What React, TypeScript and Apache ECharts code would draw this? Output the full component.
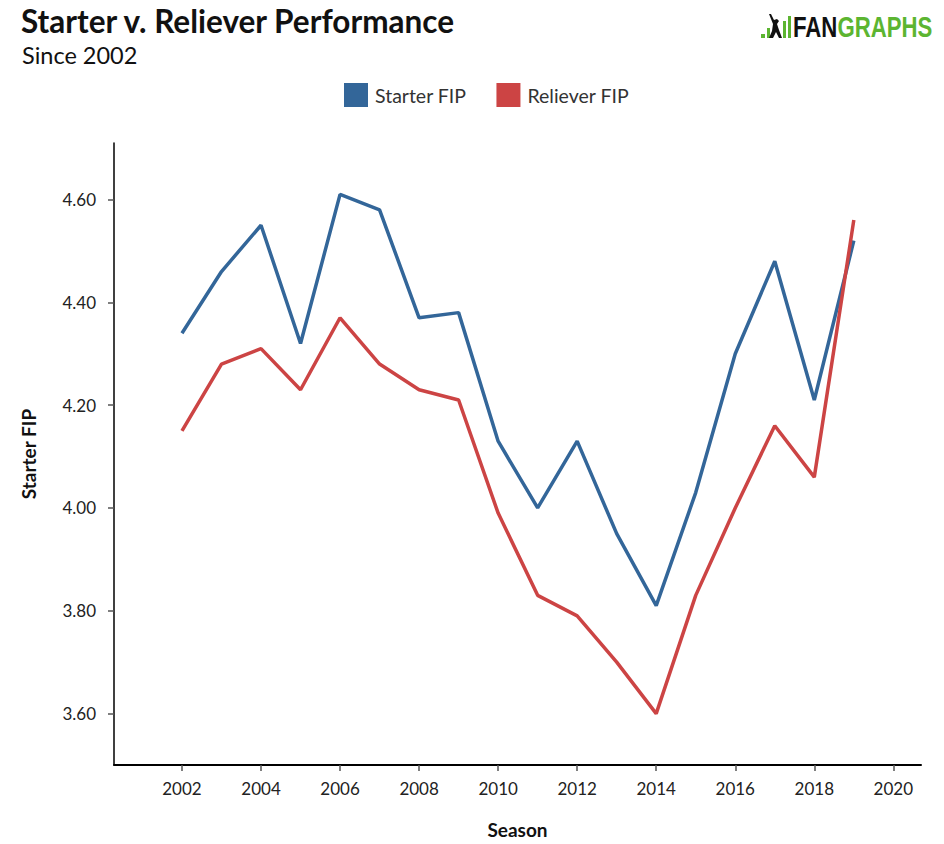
import React, { useEffect, useRef } from "react";
import * as echarts from "echarts";

const seasons = [2002, 2003, 2004, 2005, 2006, 2007, 2008, 2009, 2010, 2011, 2012, 2013, 2014, 2015, 2016, 2017, 2018, 2019];
const starterFIP = [4.34, 4.46, 4.55, 4.32, 4.61, 4.58, 4.37, 4.38, 4.13, 4.0, 4.13, 3.95, 3.81, 4.03, 4.3, 4.48, 4.21, 4.52];
const relieverFIP = [4.15, 4.28, 4.31, 4.23, 4.37, 4.28, 4.23, 4.21, 3.99, 3.83, 3.79, 3.7, 3.6, 3.83, 4.0, 4.16, 4.06, 4.56];
const xTicks = [2002, 2004, 2006, 2008, 2010, 2012, 2014, 2016, 2018, 2020];
const yTicks = [3.6, 3.8, 4.0, 4.2, 4.4, 4.6];

const FONT = "Lato, 'Noto Sans', sans-serif";
const BLUE = "#336699";
const RED = "#cc4444";
const GREEN = "#5cb531";

export default function App() {
  const ref = useRef<HTMLDivElement>(null);
  useEffect(() => {
    if (!ref.current) return;
    const chart = echarts.init(ref.current, null, { renderer: "svg" });
    chart.setOption({
      animation: false,
      backgroundColor: "#ffffff",
      textStyle: { fontFamily: FONT },
      grid: { left: 114, right: 23, top: 143, bottom: 77, containLabel: false },
      legend: {
        left: 339,
        top: 78,
        itemWidth: 24,
        itemHeight: 24,
        itemGap: 30,
        icon: "rect",
        textStyle: { fontSize: 19.5, color: "#333", fontFamily: FONT, padding: [0, 0, 0, 2] },
        data: ["Starter FIP", "Reliever FIP"],
      },
      xAxis: {
        type: "value",
        min: 2000.28,
        max: 2020.7,
        name: "Season",
        nameLocation: "middle",
        nameGap: 55,
        nameTextStyle: { fontSize: 19, fontWeight: "bold", color: "#111", fontFamily: FONT },
        axisLine: { show: true, lineStyle: { color: "#000", width: 2 } },
        axisTick: { show: true, length: 6, customValues: xTicks, lineStyle: { color: "#555", width: 1.5 } },
        axisLabel: { customValues: xTicks, fontSize: 17, color: "#222", margin: 15, fontFamily: FONT, formatter: (v: number) => String(v) },
        splitLine: { show: false },
      },
      yAxis: {
        type: "value",
        min: 3.5,
        max: 4.71,
        name: "Starter FIP",
        nameLocation: "middle",
        nameGap: 76,
        nameRotate: 90,
        nameTextStyle: { fontSize: 19, fontWeight: "bold", color: "#111", fontFamily: FONT },
        axisLine: { show: true, lineStyle: { color: "#000", width: 1.5 } },
        axisTick: { show: true, length: 6, customValues: yTicks, lineStyle: { color: "#555", width: 1.5 } },
        axisLabel: { customValues: yTicks, fontSize: 17, color: "#222", margin: 18, fontFamily: FONT, formatter: (v: number) => v.toFixed(2) },
        splitLine: { show: false },
      },
      series: [
        {
          name: "Starter FIP",
          type: "line",
          data: seasons.map((s, i) => [s, starterFIP[i]]),
          showSymbol: false,
          symbol: "none",
          itemStyle: { color: BLUE },
          lineStyle: { color: BLUE, width: 3.5 },
        },
        {
          name: "Reliever FIP",
          type: "line",
          data: seasons.map((s, i) => [s, relieverFIP[i]]),
          showSymbol: false,
          symbol: "none",
          itemStyle: { color: RED },
          lineStyle: { color: RED, width: 3.5 },
        },
      ],
      graphic: [
        {
          type: "text",
          left: 21,
          top: 5,
          style: { text: "Starter v. Reliever Performance", fontSize: 31.5, fontWeight: "bold", fill: "#111", fontFamily: FONT },
        },
        {
          type: "text",
          left: 22,
          top: 43,
          style: { text: "Since 2002", fontSize: 23.5, fill: "#111", fontFamily: FONT },
        },
        {
          type: "group",
          left: 761,
          top: 12,
          children: [
            { type: "rect", shape: { x: 0, y: 20, width: 4, height: 4 }, style: { fill: GREEN } },
            { type: "rect", shape: { x: 6, y: 14, width: 3, height: 10 }, style: { fill: GREEN } },
            {
              type: "polygon",
              shape: { points: [[8, 24], [11, 17], [12, 10], [10, 5], [8, 0], [10, 0], [13, 6], [16, 5], [18, 7], [16, 10], [18, 16], [21, 24], [18, 24], [15, 18], [12, 24]] },
              style: { fill: "#111" },
            },
            { type: "rect", shape: { x: 22, y: 7, width: 3, height: 17 }, style: { fill: GREEN } },
            { type: "rect", shape: { x: 27, y: 2, width: 3, height: 22 }, style: { fill: GREEN } },
            {
              type: "text",
              x: 32,
              y: -2,
              scaleX: 0.74,
              style: {
                rich: {
                  a: { fontSize: 30, fontWeight: "bold", fill: "#111", fontFamily: "'Liberation Sans', Arial, sans-serif" },
                  b: { fontSize: 30, fontWeight: "bold", fill: GREEN, fontFamily: "'Liberation Sans', Arial, sans-serif" },
                },
                text: "{a|FAN}{b|GRAPHS}",
              },
            },
          ],
        },
      ],
    });
    return () => chart.dispose();
  }, []);
  return <div ref={ref} style={{ width: 944, height: 844, position: "absolute", left: 0, top: 0 }} />;
}
